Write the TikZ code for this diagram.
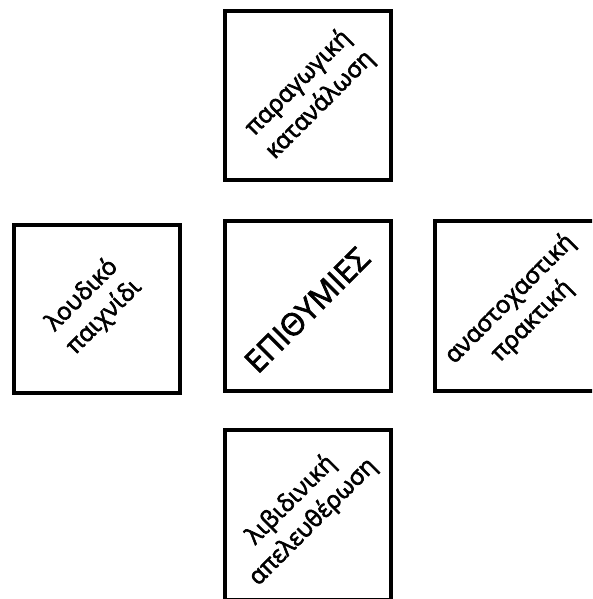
\documentclass[tikz,border=0pt]{standalone}
\usepackage{fontspec}
\setmainfont{Open Sans}
\newfontfamily\heavy[FakeBold=2.5]{Open Sans}
\begin{document}
\begin{tikzpicture}[x=1pt,y=-1pt,
  box/.style={draw=black,line width=4pt,fill=white,inner sep=0pt},
  lbl/.style={rotate=45,align=center,font=\heavy\fontsize{24}{31}\selectfont,inner sep=0pt},
  big/.style={rotate=45,align=center,font=\heavy\fontsize{31}{34}\selectfont,inner sep=0pt}]
\useasboundingbox (0,0) rectangle (592,599);
\clip (0,0) rectangle (592,599);
\node[box,minimum width=166pt,minimum height=169pt] (top) at (308,95.5) {};
\node[box,minimum width=166pt,minimum height=168pt] (left) at (97,309) {};
\node[box,minimum width=166pt,minimum height=170pt] (mid) at (308,306) {};
\node[box,minimum width=166pt,minimum height=170pt] (right) at (518,306) {};
\node[box,minimum width=166pt,minimum height=170pt] (bot) at (307.5,515) {};
\node[lbl] (tt) at (309,94) {παραγωγική\\κατανάλωση};
\node[lbl] (lt) at (93,306) {λουδικό\\παιχνίδι};
\node[big] (mt) at (307,310) {ΕΠΙΘΥΜΙΕΣ};
\node[lbl] (rt) at (521,310) {αναστοχαστική\\πρακτική};
\node[lbl] (bt) at (302,511) {λιβιδινική\\απελευθέρωση};
\end{tikzpicture}
\end{document}
